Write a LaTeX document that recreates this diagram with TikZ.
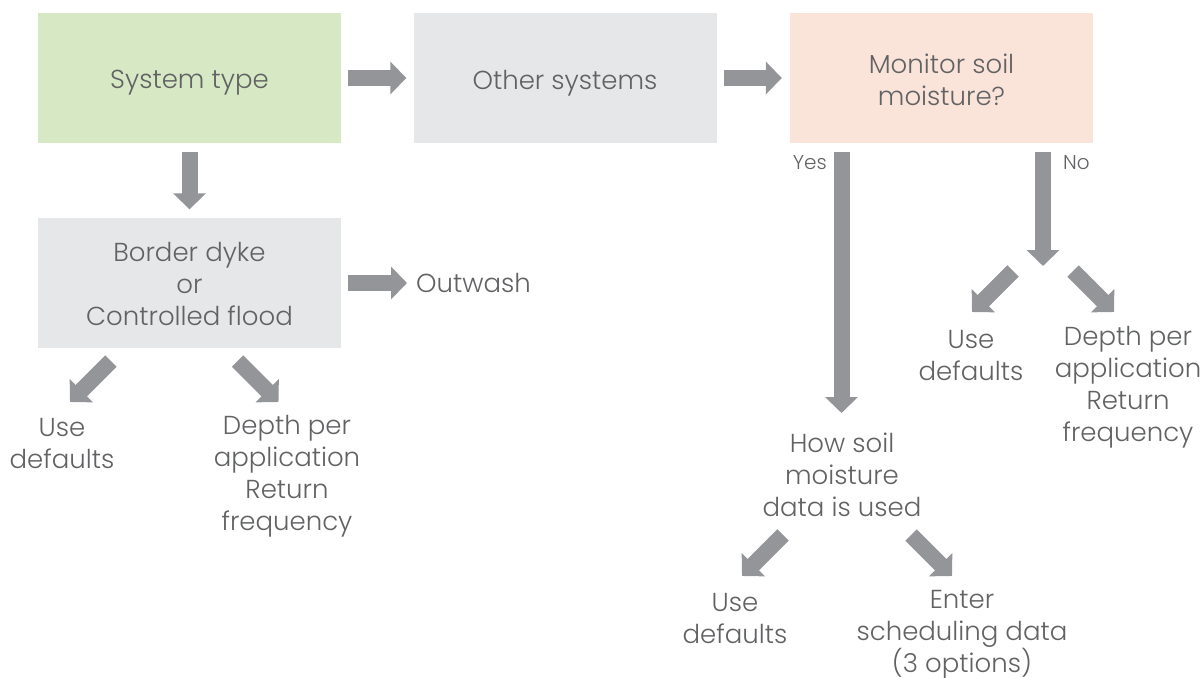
\documentclass[tikz,border=0pt]{standalone}
\usepackage{fontspec}
\setmainfont{Poppins}[UprightFont=* Light]
\usetikzlibrary{arrows.meta}
\definecolor{boxgreen}{HTML}{D7E8C4}
\definecolor{boxgray}{HTML}{E6E7E8}
\definecolor{boxpink}{HTML}{FAE3D9}
\definecolor{arrowgray}{HTML}{939598}
\definecolor{txtgray}{HTML}{616264}
\tikzset{
  box/.style={rectangle, minimum width=303pt, minimum height=130pt, inner sep=0pt, align=center, text=txtgray, font=\fontsize{26}{32}\selectfont},
  lbl/.style={inner sep=0pt, align=center, text=txtgray, font=\fontsize{26}{32}\selectfont},
  small/.style={inner sep=0pt, text=txtgray, font=\fontsize{20}{22}\selectfont},
  blockarrow/.style={draw=arrowgray, line width=16pt, -{Triangle[width=32pt,length=16pt,fill=arrowgray]}}
}
\begin{document}
\begin{tikzpicture}[x=1pt,y=-1pt]
\useasboundingbox (0,0) rectangle (1204,677);
\node[box, fill=boxgreen] (st) at (189.5,78) {};
\node[lbl] at (189.5,83) {System type};
\node[box, fill=boxgray] (os) at (565,78) {};
\node[lbl] at (565,83) {Other systems};
\node[box, fill=boxpink] (mon) at (941.5,78) {};
\node[lbl] at (941.5,80) {Monitor soil\\moisture?};
\node[box, fill=boxgray] (bd) at (189.5,282.5) {};
\node[lbl] at (189.5,284) {Border dyke\\or\\Controlled flood};
\node[lbl, anchor=west] (ow) at (416,283) {Outwash};
\node[lbl] (ud1) at (62,444) {Use\\defaults};
\node[lbl] (dp1) at (287,476) {Depth per\\application\\Return\\frequency};
\node[lbl] (hs) at (842,475) {How soil\\moisture\\data is used};
\node[lbl] (ud2) at (735,619) {Use\\defaults};
\node[lbl] (en) at (962,635) {Enter\\scheduling data\\(3 options)};
\node[lbl] (ud3) at (971,355.5) {Use\\defaults};
\node[lbl] (dp3) at (1128,387.5) {Depth per\\application\\Return\\frequency};
\node[small, anchor=east] (yes) at (827,163) {Yes};
\node[small, anchor=west] (no) at (1063,163) {No};
% straight arrows
\draw[blockarrow, shorten <=7pt, shorten >=7pt] (st.east) -- (os.west);
\draw[blockarrow, shorten <=7pt, shorten >=8pt] (os.east) -- (mon.west);
\draw[blockarrow, shorten <=9pt, shorten >=8pt] (st.south) -- (bd.north);
\draw[blockarrow, shorten <=7pt, shorten >=9pt] (bd.east |- ow.west) -- (ow.west);
\coordinate (yestop) at ([xshift=-100pt,yshift=-9pt]mon.south);
\coordinate (yestip) at (841.5,413);
\draw[blockarrow] (yestop) -- (yestip);
\coordinate (notop) at ([xshift=101.5pt,yshift=-9pt]mon.south);
\coordinate (notip) at (1043,266);
\draw[blockarrow] (notop) -- (notip);
% diagonal arrows
\coordinate (d1a) at (111,361); \coordinate (d1b) at (70,402);
\coordinate (d2a) at (237.5,361); \coordinate (d2b) at (278.5,402);
\coordinate (d3a) at (1013,271); \coordinate (d3b) at (972,312);
\coordinate (d4a) at (1073,271); \coordinate (d4b) at (1114,312);
\coordinate (d5a) at (783,535); \coordinate (d5b) at (742,576);
\coordinate (d6a) at (911,535); \coordinate (d6b) at (952,576);
\foreach \a/\b in {d1a/d1b,d2a/d2b,d3a/d3b,d4a/d4b,d5a/d5b,d6a/d6b}
  \draw[blockarrow] (\a) -- (\b);
\end{tikzpicture}
\end{document}
